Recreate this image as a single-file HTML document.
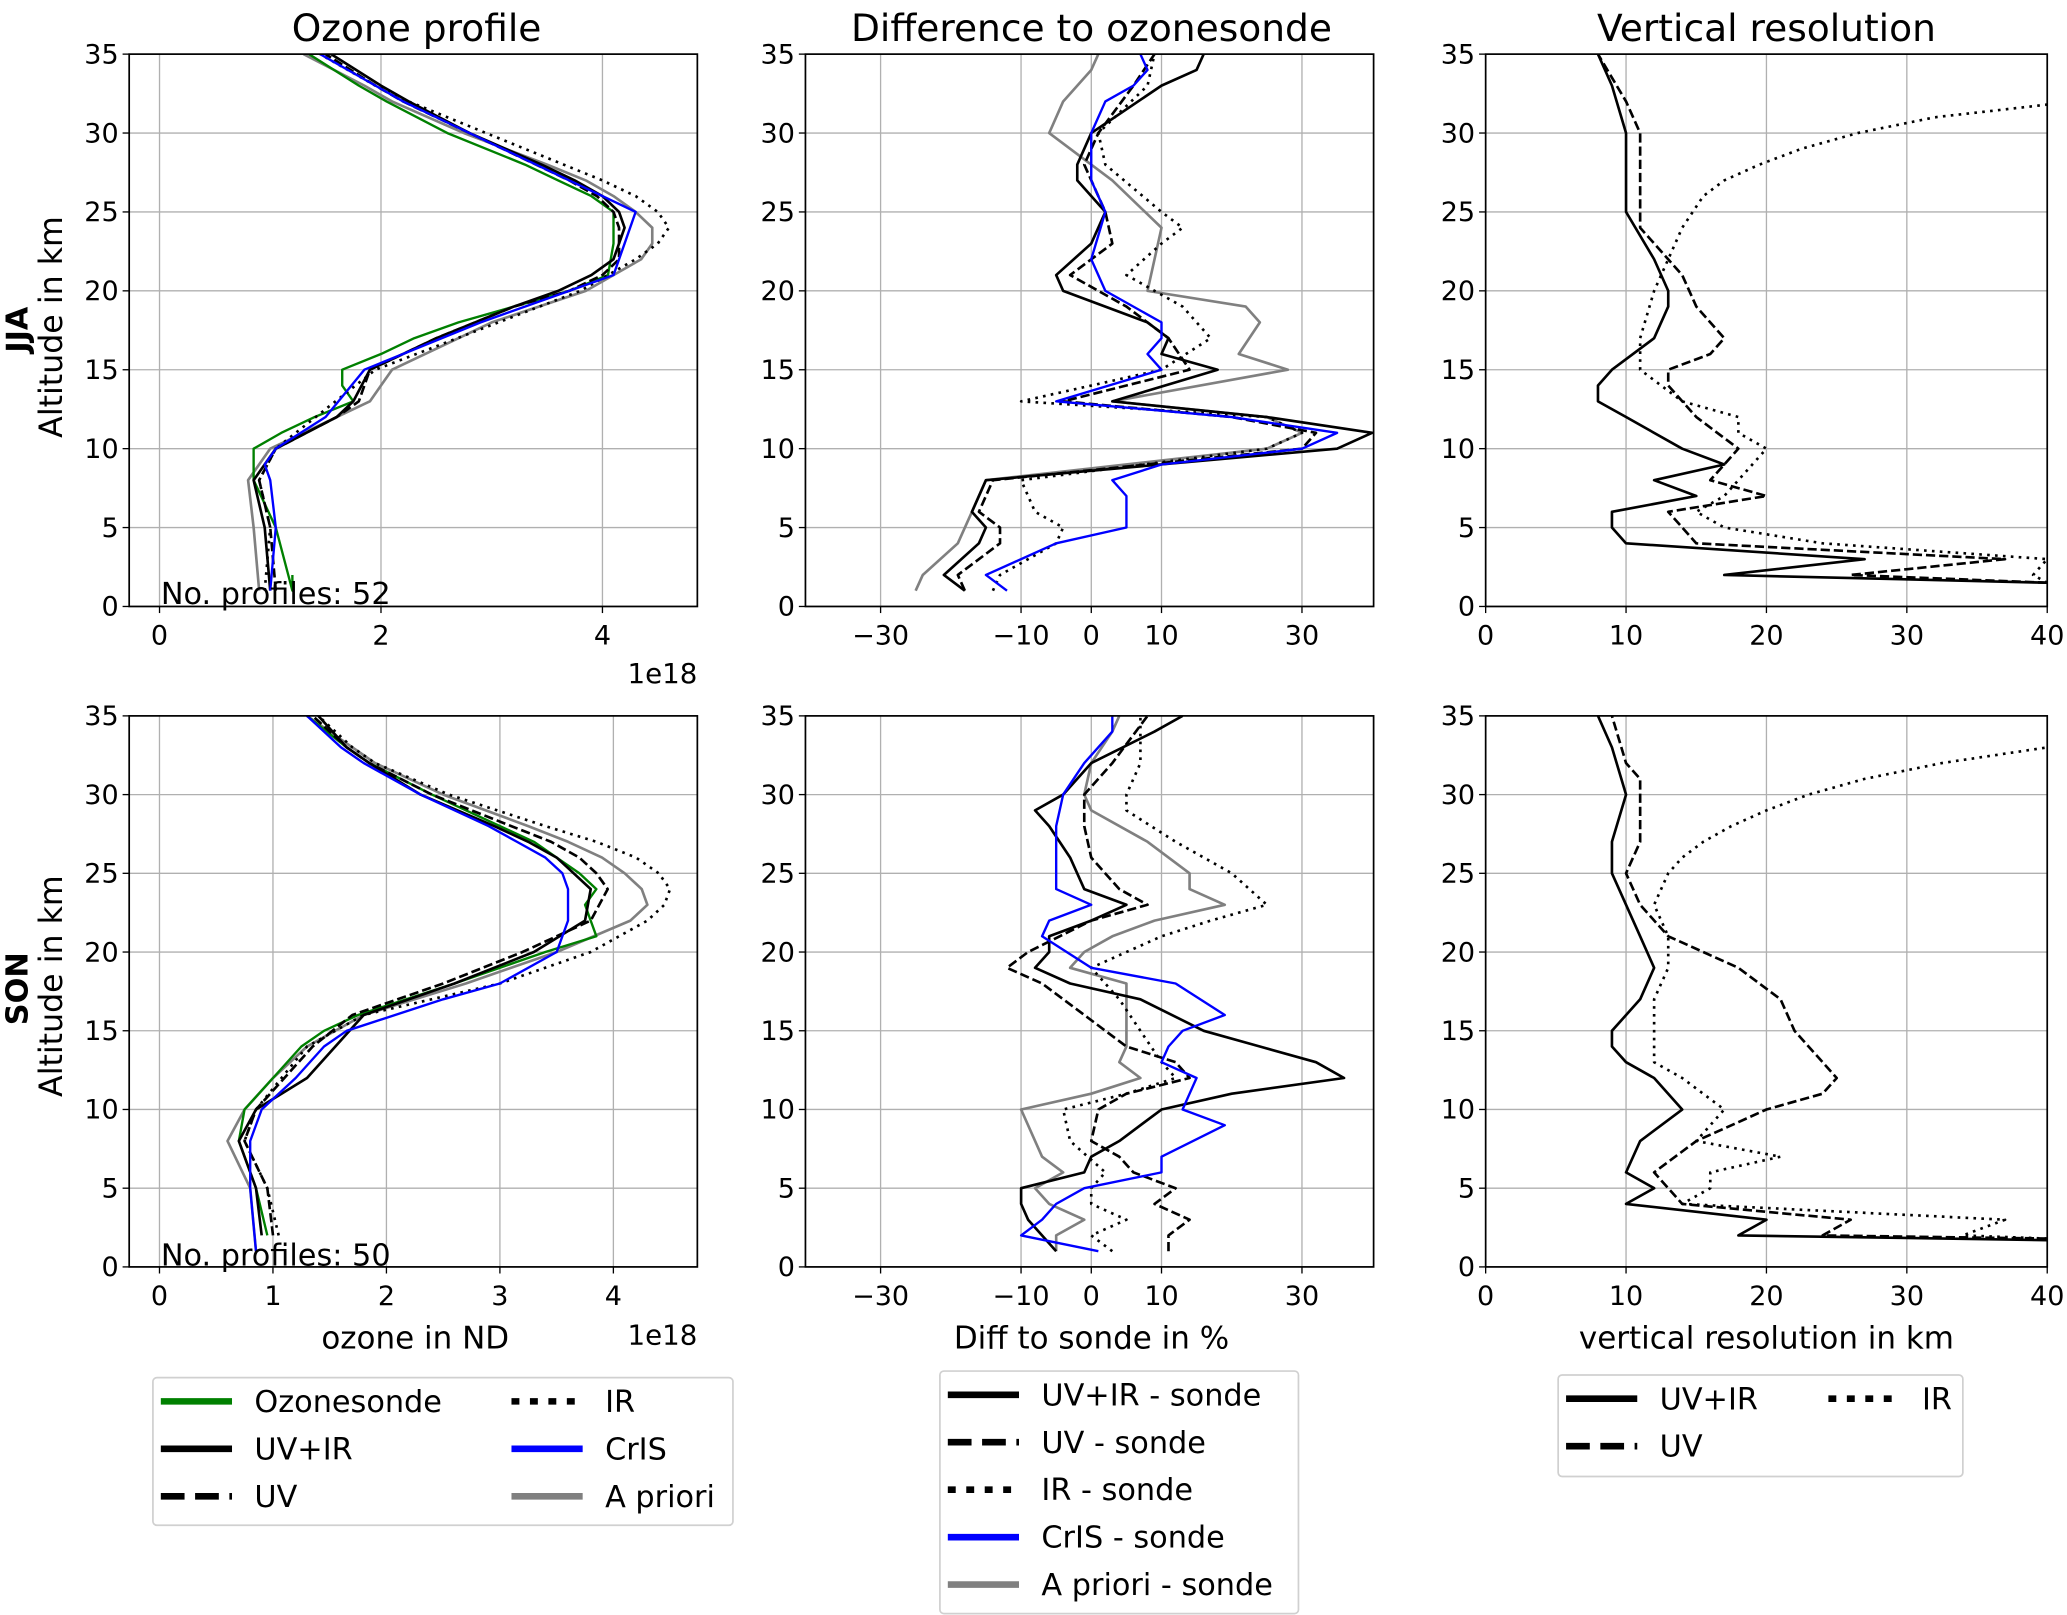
<!DOCTYPE html>
<html><head><meta charset="utf-8"><style>
html,body{margin:0;padding:0;background:#fff}
svg{display:block;font-family:"DejaVu Sans","Liberation Sans",sans-serif}
</style></head><body>
<svg id="fig" width="2067" height="1615" viewBox="0 0 1568 1225" xmlns="http://www.w3.org/2000/svg">
<g id="root"></g>
</svg>
<script>
// ===== DATA =====
const ozJJA_sonde_alt=[2,1,5,8,10,11,12,13,14,15,16,17,18,19,20,21,23,25,26,27,28,30,32,33,35];
const ozJJA_sonde=[1.2,1.2,1.05,0.85,0.85,1.1,1.4,1.75,1.65,1.65,2.0,2.3,2.7,3.2,3.7,4.05,4.1,4.1,3.9,3.6,3.3,2.6,2.05,1.8,1.35];
const ozJJA_uvir_alt=[1,5,8,10,12,13,15,17,19,20,21,22,24,25,26,27,28,30,32,33,35];
const ozJJA_uvir=[1.0,0.95,0.85,1.05,1.6,1.75,1.9,2.5,3.2,3.6,3.9,4.1,4.2,4.15,4.0,3.75,3.45,2.8,2.25,2.0,1.55];
const ozJJA_uv_alt=[1,5,8,10,12,13,15,17,19,20,21,22,24,25,26,27,28,30,32,33,35];
const ozJJA_uv=[1.05,1.0,0.9,1.05,1.6,1.8,1.9,2.5,3.2,3.7,4.0,4.15,4.15,4.1,3.95,3.7,3.4,2.8,2.2,1.95,1.5];
const ozJJA_ir_alt=[1,5,8,10,15,20,22,23,24,25,26,27,28,30,32,33,35];
const ozJJA_ir=[0.95,1.0,0.9,1.05,1.95,3.8,4.3,4.5,4.6,4.5,4.3,4.0,3.65,2.95,2.25,1.95,1.45];
const ozJJA_cris_alt=[1,5,8,9,10,12,15,18,20,21,23,25,26,27,28,30,32,33,35];
const ozJJA_cris=[1.0,1.05,1.0,0.95,1.05,1.5,1.85,2.9,3.7,4.1,4.2,4.3,4.0,3.7,3.4,2.8,2.2,1.95,1.45];
const ozJJA_ap_alt=[1,5,8,10,13,15,18,20,22,23,24,25,26,27,28,30,32,33,35];
const ozJJA_ap=[0.9,0.85,0.8,1.0,1.9,2.1,3.0,3.85,4.35,4.45,4.45,4.3,4.1,3.85,3.5,2.75,2.1,1.85,1.3];
const ozSON_sonde_alt=[2,5,8,10,12,14,15,16,18,20,21,22,23,24,25,26,27,28,30,32,33,35];
const ozSON_sonde=[0.95,0.85,0.7,0.75,1.0,1.25,1.45,1.75,2.6,3.4,3.85,3.8,3.75,3.85,3.7,3.5,3.3,3.0,2.4,1.85,1.65,1.3];
const ozSON_uvir_alt=[2,5,8,10,12,14,16,18,20,22,24,25,26,27,28,30,32,33,35];
const ozSON_uvir=[0.9,0.85,0.7,0.85,1.3,1.55,1.8,2.6,3.3,3.75,3.8,3.65,3.5,3.25,2.95,2.3,1.85,1.65,1.4];
const ozSON_uv_alt=[2,5,8,10,14,16,18,20,22,24,25,26,27,28,30,32,33,35];
const ozSON_uv=[1.0,0.95,0.75,0.85,1.35,1.7,2.5,3.2,3.8,3.95,3.85,3.7,3.45,3.1,2.4,1.85,1.65,1.35];
const ozSON_ir_alt=[2,5,8,10,14,16,18,20,22,23,24,25,26,27,28,30,32,33,35];
const ozSON_ir=[1.05,0.95,0.75,0.85,1.3,1.8,3.0,3.8,4.3,4.45,4.5,4.4,4.2,3.85,3.4,2.55,1.9,1.7,1.4];
const ozSON_cris_alt=[1,5,8,10,12,14,15,17,18,20,22,24,25,26,27,28,30,32,33,35];
const ozSON_cris=[0.85,0.8,0.8,0.9,1.2,1.45,1.65,2.5,3.0,3.5,3.6,3.6,3.55,3.4,3.15,2.9,2.3,1.8,1.6,1.3];
const ozSON_ap_alt=[1,5,8,10,12,14,16,18,20,22,23,24,25,26,27,28,30,32,33,35];
const ozSON_ap=[0.85,0.8,0.6,0.75,1.0,1.3,1.8,2.7,3.5,4.15,4.3,4.25,4.1,3.9,3.6,3.25,2.5,1.9,1.7,1.3];
const dfJJA_uvir_alt=[1,2,4,5,6,8,10,11,12,13,15,16,17,18,20,21,23,25,27,28,30,33,34,35];
const dfJJA_uvir=[-18,-21,-16,-15,-17,-15,35,40,25,3,18,10,11,8,-4,-5,0,2,-2,-2,0,10,15,16];
const dfJJA_uv_alt=[1,2,4,5,6,8,10,11,12,13,15,17,19,21,23,25,28,30,33,35];
const dfJJA_uv=[-18,-19,-13,-13,-16,-14,30,32,20,-4,14,11,5,-3,3,2,-1,1,6,9];
const dfJJA_ir_alt=[1,2,4,5,6,8,10,11,12,13,15,17,19,21,23,24,25,28,30,33,35];
const dfJJA_ir=[-14,-13,-5,-4,-8,-10,25,30,25,-10,10,17,13,5,10,13,10,2,1,8,9];
const dfJJA_cris_alt=[1,2,4,5,7,8,9,10,11,12,13,15,16,17,18,20,22,25,27,30,32,33,34,35];
const dfJJA_cris=[-12,-15,-5,5,5,3,10,30,35,20,-5,10,8,10,10,2,0,2,0,0,2,6,8,7];
const dfJJA_ap_alt=[1,2,4,6,8,10,11,12,13,15,16,18,19,20,24,27,30,32,34,35];
const dfJJA_ap=[-25,-24,-19,-17,-15,25,30,25,3,28,21,24,22,8,10,3,-6,-4,0,1];
const dfSON_uvir_alt=[1,3,4,5,6,7,8,10,11,12,13,14,15,17,18,19,20,21,22,23,24,26,28,29,30,32,34,35];
const dfSON_uvir=[-5,-9,-10,-10,-1,0,4,10,20,36,32,24,16,7,-3,-8,-6,-6,0,5,-1,-3,-6,-8,-4,0,9,13];
const dfSON_uv_alt=[1,2,3,4,5,6,7,8,10,11,12,13,14,16,18,19,20,22,23,24,26,28,30,32,35];
const dfSON_uv=[11,11,14,9,12,6,4,0,1,5,14,12,5,-1,-7,-12,-9,0,8,4,0,-1,-1,3,8];
const dfSON_ir_alt=[1,2,3,4,5,6,8,10,11,12,13,15,17,19,21,22,23,25,27,29,30,32,35];
const dfSON_ir=[3,0,5,0,0,2,-3,-4,5,12,10,7,4,0,10,17,25,20,12,5,5,7,7];
const dfSON_cris_alt=[1,2,3,4,5,6,7,9,10,11,12,13,14,15,16,18,19,21,22,23,24,26,28,30,32,34,35];
const dfSON_cris=[1,-10,-7,-5,-1,10,10,19,13,14,15,10,11,13,19,12,0,-7,-6,0,-5,-5,-5,-4,-1,3,3];
const dfSON_ap_alt=[1,2,3,4,5,6,7,10,11,12,13,14,16,18,19,20,21,22,23,24,25,27,29,30,32,34,35];
const dfSON_ap=[-5,-5,-1,-6,-8,-4,-7,-10,0,7,4,5,5,5,-3,-1,3,9,19,14,14,8,0,-1,0,3,4];
const vrJJA_uvir_alt=[1.5,2,3,4,5,6,7,8,9,10,12,13,14,15,17,19,20,22,25,28,30,33,35];
const vrJJA_uvir=[40,17,27,10,9,9,15,12,17,14,10,8,8,9,12,13,13,12,10,10,10,9,8];
const vrJJA_uv_alt=[1.5,2,3,4,5,6,7,8,10,12,14,15,16,17,19,21,24,27,30,32,35];
const vrJJA_uv=[40,26,37,15,14,13,20,16,18,15,13,13,16,17,15,14,11,11,11,10,8];
const vrJJA_ir_alt=[1.5,2,3,4,5,6,7,8,10,11,12,13,15,17,20,22,24,26,27,28,29,30,31,31.8];
const vrJJA_ir=[40,39,40,24,17,15,17,18,20,18,18,14,11,11,12,13,14,15.5,17,19.5,22.5,26.5,32,40];
const vrSON_uvir_alt=[1.7,2,3,4,5,6,8,10,12,13,14,15,17,19,21,23,25,27,30,33,35];
const vrSON_uvir=[40,18,20,10,12,10,11,14,12,10,9,9,11,12,11,10,9,9,10,9,8];
const vrSON_uv_alt=[1.8,2,3,4,6,8,10,11,12,13,15,17,19,21,23,25,27,29,31,32,35];
const vrSON_uv=[40,24,26,14,12,15,20,24,25,24,22,21,18,13,11,10,11,11,11,10,9];
const vrSON_ir_alt=[1.8,2,3,4,5,6,7,8,9,10,12,13,15,17,19,21,23,25,26,27,28,29,30,31,32,33];
const vrSON_ir=[40,34,37,14,16,16,21,15,16,17,14,12,12,12,13,13,12,13,14,15.5,17.5,20,23,27,32.5,40];
const ticksOzTop=[0,2,4];
const ticksOzBot=[0,1,2,3,4];
const ticksDiff=[-30,-10,0,10,30];
const ticksVr=[0,10,20,30,40];
const ticksY=[0,5,10,15,20,25,30,35];

// ===== DRAWING =====
const NS="http://www.w3.org/2000/svg";
const root=document.getElementById('root');
function mk(tag,attrs,parent){const e=document.createElementNS(NS,tag);for(const k in attrs)e.setAttribute(k,attrs[k]);(parent||root).appendChild(e);return e;}
const STY={
 sonde:{stroke:'#008000',w:1.8,dash:null},
 uvir:{stroke:'#000',w:2,dash:null},
 uv:{stroke:'#000',w:2,dash:'7,3'},
 ir:{stroke:'#000',w:2,dash:'2,4'},
 cris:{stroke:'#0000ff',w:1.8,dash:null},
 ap:{stroke:'#808080',w:2,dash:null}
};
function panel(name,x0,x1,y0,y1,xmin,xmax,xticks,series){
 const g=mk('g',{});
 
 
 const sx=v=>x0+(v-xmin)/(xmax-xmin)*(x1-x0);
 const sy=a=>y1-(a/35)*(y1-y0);
 const cp=mk('clipPath',{id:'c'+name},g);
 mk('rect',{x:x0,y:y0,width:x1-x0,height:y1-y0},cp);
 ticksY.forEach(t=>{
  const l=mk('line',{x1:x0,x2:x1,y1:sy(t),y2:sy(t),stroke:'#b0b0b0','stroke-width':1},g);
  
  
  mk('line',{x1:x0-5,x2:x0,y1:sy(t),y2:sy(t),stroke:'#000','stroke-width':1},g);
  const tx=mk('text',{x:x0-8,y:sy(t)+7,'text-anchor':'end','font-size':20.5},g);tx.textContent=t;
  
  
 });
 xticks.forEach(t=>{
  const l=mk('line',{x1:sx(t),x2:sx(t),y1:y0,y2:y1,stroke:'#b0b0b0','stroke-width':1},g);
  
  
  mk('line',{x1:sx(t),x2:sx(t),y1:y1,y2:y1+5,stroke:'#000','stroke-width':1},g);
  const tx=mk('text',{x:sx(t),y:y1+29,'text-anchor':'middle','font-size':20.5},g);tx.textContent=(t<0?'\u2212'+(-t):t);
  
  
 });
 const sg=mk('g',{'clip-path':'url(#c'+name+')'},g);
 series.forEach(s=>{
  const st=STY[s.k];
  const d=s.v.map((v,i)=>(i?'L':'M')+sx(v).toFixed(1)+','+sy(s.a[i]).toFixed(1)).join('');
  const p=mk('path',{d:d,fill:'none',stroke:st.stroke,'stroke-width':st.w,'stroke-linejoin':'round'},sg);
  if(st.dash)p.setAttribute('stroke-dasharray',st.dash);
  
  
 });
 mk('rect',{x:x0,y:y0,width:x1-x0,height:y1-y0,fill:'none',stroke:'#000','stroke-width':1.3},g);
}
const T=[41,460],B=[543,961];
panel('ozone-jja',98,529,T[0],T[1],-0.274,4.857,ticksOzTop,[
 {k:'ap',a:ozJJA_ap_alt,v:ozJJA_ap,n:'apriori-line'},
 {k:'sonde',a:ozJJA_sonde_alt,v:ozJJA_sonde,n:'ozonesonde-line'},
 {k:'uvir',a:ozJJA_uvir_alt,v:ozJJA_uvir,n:'uvir-line'},
 {k:'uv',a:ozJJA_uv_alt,v:ozJJA_uv,n:'uv-line'},
 {k:'ir',a:ozJJA_ir_alt,v:ozJJA_ir,n:'ir-line'},
 {k:'cris',a:ozJJA_cris_alt,v:ozJJA_cris,n:'cris-line'}]);
panel('ozone-son',98,529,B[0],B[1],-0.267,4.74,ticksOzBot,[
 {k:'ap',a:ozSON_ap_alt,v:ozSON_ap,n:'apriori-line'},
 {k:'sonde',a:ozSON_sonde_alt,v:ozSON_sonde,n:'ozonesonde-line'},
 {k:'uvir',a:ozSON_uvir_alt,v:ozSON_uvir,n:'uvir-line'},
 {k:'uv',a:ozSON_uv_alt,v:ozSON_uv,n:'uv-line'},
 {k:'ir',a:ozSON_ir_alt,v:ozSON_ir,n:'ir-line'},
 {k:'cris',a:ozSON_cris_alt,v:ozSON_cris,n:'cris-line'}]);
panel('diff-jja',611,1042,T[0],T[1],-40.7,40.2,ticksDiff,[
 {k:'ap',a:dfJJA_ap_alt,v:dfJJA_ap,n:'apriori-diff-line'},
 {k:'uvir',a:dfJJA_uvir_alt,v:dfJJA_uvir,n:'uvir-diff-line'},
 {k:'uv',a:dfJJA_uv_alt,v:dfJJA_uv,n:'uv-diff-line'},
 {k:'ir',a:dfJJA_ir_alt,v:dfJJA_ir,n:'ir-diff-line'},
 {k:'cris',a:dfJJA_cris_alt,v:dfJJA_cris,n:'cris-diff-line'}]);
panel('diff-son',611,1042,B[0],B[1],-40.7,40.2,ticksDiff,[
 {k:'ap',a:dfSON_ap_alt,v:dfSON_ap,n:'apriori-diff-line'},
 {k:'uvir',a:dfSON_uvir_alt,v:dfSON_uvir,n:'uvir-diff-line'},
 {k:'uv',a:dfSON_uv_alt,v:dfSON_uv,n:'uv-diff-line'},
 {k:'ir',a:dfSON_ir_alt,v:dfSON_ir,n:'ir-diff-line'},
 {k:'cris',a:dfSON_cris_alt,v:dfSON_cris,n:'cris-diff-line'}]);
panel('vres-jja',1127,1553,T[0],T[1],0,40,ticksVr,[
 {k:'uvir',a:vrJJA_uvir_alt,v:vrJJA_uvir,n:'uvir-vres-line'},
 {k:'uv',a:vrJJA_uv_alt,v:vrJJA_uv,n:'uv-vres-line'},
 {k:'ir',a:vrJJA_ir_alt,v:vrJJA_ir,n:'ir-vres-line'}]);
panel('vres-son',1127,1553,B[0],B[1],0,40,ticksVr,[
 {k:'uvir',a:vrSON_uvir_alt,v:vrSON_uvir,n:'uvir-vres-line'},
 {k:'uv',a:vrSON_uv_alt,v:vrSON_uv,n:'uv-vres-line'},
 {k:'ir',a:vrSON_ir_alt,v:vrSON_ir,n:'ir-vres-line'}]);

function txt(x,y,s,size,name,extra){const t=mk('text',Object.assign({x:x,y:y,'font-size':size},extra||{}));t.textContent=s;
 
 
 return t;}
txt(316,31,'Ozone profile',28.5,'title-ozone-profile',{'text-anchor':'middle'});
txt(828,31,'Difference to ozonesonde',28.5,'title-difference',{'text-anchor':'middle'});
txt(1340,31,'Vertical resolution',28.5,'title-vertical-resolution',{'text-anchor':'middle'});
txt(529,518,'1e18',21,'x-offset-label-top',{'text-anchor':'end'});
txt(529,1020,'1e18',21,'x-offset-label-bottom',{'text-anchor':'end'});
txt(315,1023,'ozone in ND',23.5,'x-axis-title-ozone',{'text-anchor':'middle'});
txt(828,1023,'Diff to sonde in %',23.5,'x-axis-title-diff',{'text-anchor':'middle'});
txt(1340,1023,'vertical resolution in km',23.5,'x-axis-title-vres',{'text-anchor':'middle'});
txt(122,458,'No. profiles: 52',23,'profile-count-jja');
txt(122,960,'No. profiles: 50',23,'profile-count-son');
txt(47,248,'Altitude in km',24,'y-axis-title-jja',{'text-anchor':'middle',transform:'rotate(-90 47 248)'});
txt(47,748,'Altitude in km',24,'y-axis-title-son',{'text-anchor':'middle',transform:'rotate(-90 47 748)'});
txt(21,250,'JJA',23,'row-label-jja',{'text-anchor':'middle','font-weight':'bold',transform:'rotate(-90 21 250)'});
txt(21,750,'SON',23,'row-label-son',{'text-anchor':'middle','font-weight':'bold',transform:'rotate(-90 21 750)'});

function legend(name,bx,by,bw,bh,items){
 const g=mk('g',{});
 
 
 mk('rect',{x:bx,y:by,width:bw,height:bh,rx:3,fill:'#fff',stroke:'#d0d0d0','stroke-width':1.3},g);
 items.forEach(it=>{
  const st=STY[it.k];
  const l=mk('line',{x1:it.x,x2:it.x+54,y1:it.y,y2:it.y,stroke:st.stroke,'stroke-width':5},g);
  if(st.dash)l.setAttribute('stroke-dasharray',it.k=='uv'?'18,8':'6,8');
  const t=mk('text',{x:it.x+71,y:it.y+8,'font-size':23},g);t.textContent=it.t;
  
  
 });
}
legend('legend-ozone',116,1045,440,112,[
 {k:'sonde',x:122,y:1063,t:'Ozonesonde'},{k:'uvir',x:122,y:1099,t:'UV+IR'},{k:'uv',x:122,y:1135,t:'UV'},
 {k:'ir',x:388,y:1063,t:'IR'},{k:'cris',x:388,y:1099,t:'CrIS'},{k:'ap',x:388,y:1135,t:'A priori'}]);
legend('legend-diff',713,1040,272,184,[
 {k:'uvir',x:719,y:1058,t:'UV+IR - sonde'},{k:'uv',x:719,y:1094,t:'UV - sonde'},{k:'ir',x:719,y:1130,t:'IR - sonde'},
 {k:'cris',x:719,y:1166,t:'CrIS - sonde'},{k:'ap',x:719,y:1202,t:'A priori - sonde'}]);
legend('legend-vres',1182,1043,307,77,[
 {k:'uvir',x:1188,y:1061,t:'UV+IR'},{k:'uv',x:1188,y:1097,t:'UV'},{k:'ir',x:1387,y:1061,t:'IR'}]);
</script>
</body></html>
